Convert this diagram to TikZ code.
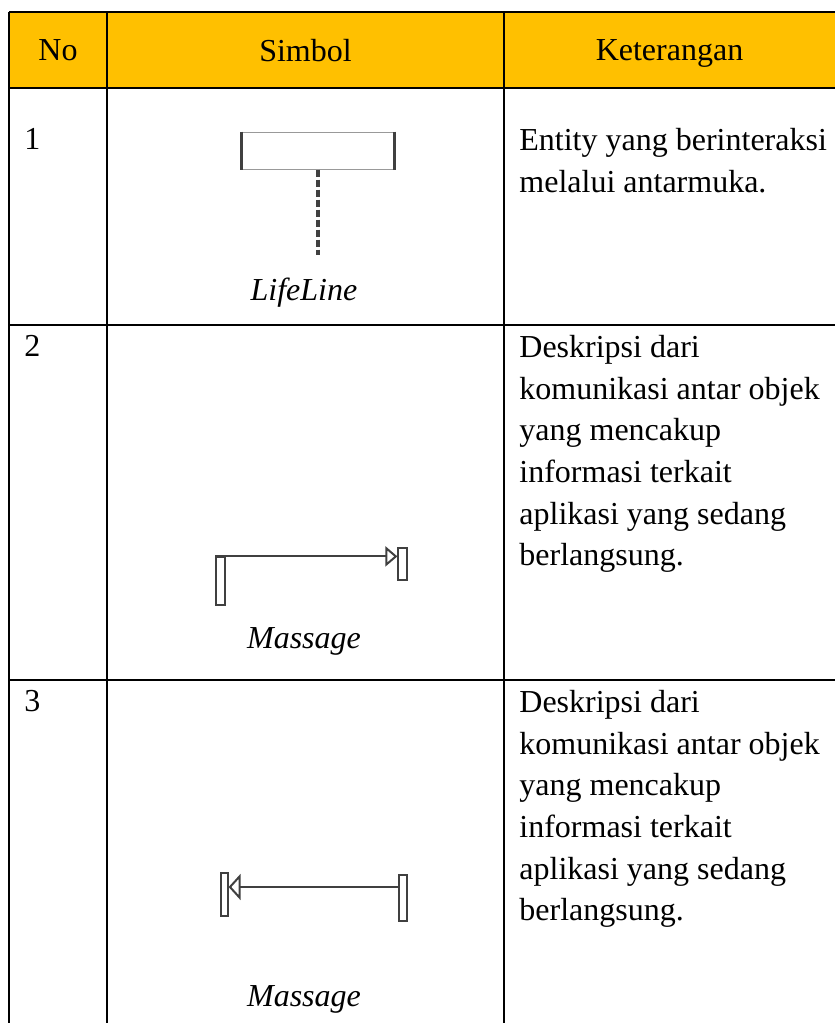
\documentclass[tikz,border=0pt]{standalone}
\usepackage{fontspec}
\setmainfont{Liberation Serif}
\usepackage{xcolor}
\usetikzlibrary{arrows.meta}
\usetikzlibrary{positioning}
\tikzset{>=latex}
\definecolor{headfill}{HTML}{FFC000}
\definecolor{symline}{HTML}{404040}

\begin{document}
\begin{tikzpicture}[
        x=0.5pt, y=-0.5pt,
        grid/.style={line width=1.15pt, black},
        headtext/.style={inner sep=0pt, anchor=north, font=\fontsize{16}{20.8}\selectfont},
        celltext/.style={inner sep=0pt, anchor=north west, align=left, font=\fontsize{16}{20.8}\selectfont},
        symname/.style={inner sep=0pt, anchor=base, font=\fontsize{16}{20.8}\selectfont\itshape},
        objbox/.style={draw=black!40, line width=0.5pt, inner sep=0pt, minimum width=76pt, minimum height=18.5pt},
        actbox/.style={draw=symline, line width=0.6pt, fill=white, inner sep=0pt},
        msg/.style={draw=symline, line width=1pt}
    ]

    \useasboundingbox (0,0) rectangle (835,1023);

    %=== Table ===%
    \fill[headfill] (9,12) rectangle (835,88);
    \foreach \y in {12,88,325,680}
        \draw[grid] (9,\y) -- (835,\y);
    \foreach \x in {9,107,504}
        \draw[grid] (\x,12) -- (\x,1023);

    % header
    \node[headtext] (hno) at (58,39) {No};
    \node[headtext] (hsym) at (305.5,39) {Simbol};
    \node[headtext] (hket) at (669.5,39) {Keterangan};

    %=== Row 1: lifeline ===%
    \node[celltext] (no1) at (24,128) {1};
    \node[celltext] (ket1) at (519,128) {Entity yang berinteraksi\\melalui antarmuka.};

    \node[objbox] (obj) at (318,150.5) {};
    \draw[symline, line width=1.5pt] (obj.north west) -- (obj.south west);
    \draw[symline, line width=1.5pt] (obj.north east) -- (obj.south east);
    \coordinate (lifeend) at (318,255);
    \draw[symline, line width=1.7pt, dash pattern=on 3.5pt off 1.5pt] (obj.south) -- (lifeend);
    \node[symname] (sym1) at (304,300) {LifeLine};

    %=== Row 2: message to the right ===%
    \node[celltext] (no2) at (24,335) {2};
    \node[celltext] (ket2) at (519,335) {Deskripsi dari\\komunikasi antar objek\\yang mencakup\\informasi terkait\\aplikasi yang sedang\\berlangsung.};

    \node[actbox, minimum width=4.5pt, minimum height=24pt] (srcA) at (220.5,581) {};
    \node[actbox, minimum width=4.5pt, minimum height=16pt] (dstA) at (402.5,564) {};
    \draw[msg, -{Triangle[open, length=6pt, width=10pt]}] (srcA.north west) -- (srcA.north west -| dstA.west);
    \node[symname] (sym2) at (304,648) {Massage};

    %=== Row 3: message to the left ===%
    \node[celltext] (no3) at (24,690) {3};
    \node[celltext] (ket3) at (519,690) {Deskripsi dari\\komunikasi antar objek\\yang mencakup\\informasi terkait\\aplikasi yang sedang\\berlangsung.};

    \node[actbox, minimum width=4pt, minimum height=23pt] (srcB) at (403,898) {};
    \node[actbox, minimum width=3.5pt, minimum height=21.5pt] (dstB) at (224.5,894.5) {};
    \coordinate (msgB) at (403,887);
    \draw[msg, -{Triangle[open, length=6pt, width=13pt]}] (srcB.west |- msgB) -- (dstB.east |- msgB);
    \node[symname] (sym3) at (304,1006) {Massage};

\end{tikzpicture}
\end{document}
